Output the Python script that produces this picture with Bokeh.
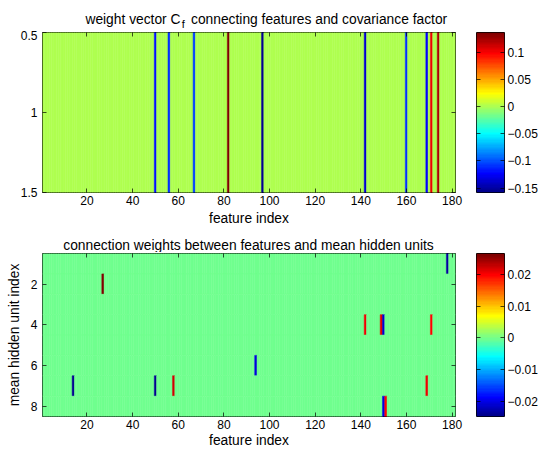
import numpy as np
from bokeh.plotting import figure
from bokeh.layouts import column, row
from bokeh.models import (Range1d, LinearAxis, FixedTicker, LinearColorMapper,
                          ColumnDataSource, CustomJSTickFormatter)
from bokeh.core.properties import value
from bokeh.transform import transform
from bokeh.embed import file_html
from bokeh.resources import INLINE

FONT = "Liberation Sans"
TITLE_SIZE = "13.8px"
LABEL_SIZE = "13.8px"

# ---------------- data ----------------
n_features = 181
n_hidden = 8

# top panel: non-zero entries of weight vector C_f (feature index -> value)
cf_features = [50, 56, 67, 82, 97, 142, 160, 169, 171, 174]
cf_values = [-0.120, -0.108, -0.105, 0.136, -0.158, -0.137, -0.110, -0.125, 0.100, 0.118]

# bottom panel: non-zero connection weights (hidden unit, feature, value)
w_units = [1, 2, 4, 4, 4, 4, 6, 7, 7, 7, 7, 8, 8]
w_features = [178, 27, 142, 149, 150, 171, 94, 14, 50, 58, 169, 150, 151]
w_values = [-0.0235, 0.0266, 0.0205, 0.0215, -0.0210, 0.0195, -0.0200,
            -0.0248, -0.0240, 0.0220, 0.0205, -0.0205, 0.0200]

x_ticks = [20, 40, 60, 80, 100, 120, 140, 160, 180]
y1_ticks = [0.5, 1, 1.5]
y2_ticks = [2, 4, 6, 8]
cb1_ticks = [0.1, 0.05, 0, -0.05, -0.1, -0.15]
cb2_ticks = [0.02, 0.01, 0, -0.01, -0.02]

title1_main = "weight vector C"
title1_sub = "f"
title1_rest = "connecting features and covariance factor"
title2 = "connection weights between features and mean hidden units"


def jet64():
    out = []
    for k in range(1, 65):
        r = min(max(min((k - 24) / 16, (72 - k) / 16), 0), 1)
        g = min(max(min((k - 8) / 16, (56 - k) / 16), 0), 1)
        b = min(max(min((k + 8) / 16, (40 - k) / 16), 0), 1)
        out.append("#%02x%02x%02x" % (round(r * 255), round(g * 255), round(b * 255)))
    return out


JET = jet64()

cf = np.zeros(n_features)
for f, v in zip(cf_features, cf_values):
    cf[f - 1] = v
W = np.zeros((n_hidden, n_features))
for u, f, v in zip(w_units, w_features, w_values):
    W[u - 1, f - 1] = v

fmt = CustomJSTickFormatter(code="return (tick < 0 ? '\u2212' : '') + Math.abs(tick).toString();")


def style_axis(ax, ticks, labels=True, standoff=4):
    ax.ticker = FixedTicker(ticks=ticks)
    ax.axis_line_color = None
    ax.major_tick_in = 4
    ax.major_tick_out = 0
    ax.minor_tick_line_color = None
    ax.major_tick_line_color = "black"
    ax.major_tick_line_alpha = 0.7
    ax.major_label_text_font = FONT
    ax.major_label_text_font_size = "12px"
    ax.major_label_text_color = "black"
    ax.major_label_standoff = standoff
    if not labels:
        ax.major_label_text_font_size = "0px"
        ax.major_label_text_color = None
        ax.major_label_standoff = 0


def axis_label(ax, text, standoff):
    ax.axis_label = text
    ax.axis_label_text_font = FONT
    ax.axis_label_text_font_size = LABEL_SIZE
    ax.axis_label_text_font_style = "normal"
    ax.axis_label_text_color = "black"
    ax.axis_label_standoff = standoff


MAIN_W, CB_W = 468, 80


def main_panel(height, b_top, b_bottom, yr, yticks):
    p = figure(width=MAIN_W, height=height, x_range=Range1d(0.5, n_features + 0.5), y_range=yr,
               output_backend="svg", toolbar_location=None,
               min_border_left=42, min_border_right=13,
               min_border_top=b_top, min_border_bottom=b_bottom)
    p.grid.visible = False
    p.outline_line_color = "black"
    p.outline_line_width = 1
    p.outline_line_alpha = 1
    style_axis(p.below[0], x_ticks, True, 3)
    style_axis(p.left[0], yticks, True, 5)
    ax_top = LinearAxis()
    style_axis(ax_top, x_ticks, False)
    p.add_layout(ax_top, "above")
    ax_r = LinearAxis()
    style_axis(ax_r, yticks, False)
    p.add_layout(ax_r, "right")
    return p


def cbar(height, b_top, b_bottom, mapper, vmin, vmax, ticks):
    c = figure(width=CB_W, height=height, x_range=Range1d(0, 1), y_range=Range1d(vmin, vmax),
               x_axis_location=None, y_axis_location="right",
               output_backend="svg", toolbar_location=None,
               min_border_left=8, min_border_right=44,
               min_border_top=b_top, min_border_bottom=b_bottom)
    c.grid.visible = False
    c.outline_line_color = "black"
    c.outline_line_width = 1
    grad = np.linspace(vmin, vmax, 256).reshape(256, 1)
    c.image(image=[grad], x=0, y=vmin, dw=1, dh=vmax - vmin, color_mapper=mapper)
    style_axis(c.right[0], ticks, True, 3)
    c.right[0].formatter = fmt
    ax_l = LinearAxis()
    style_axis(ax_l, ticks, False)
    c.add_layout(ax_l, "left")
    return c


def strip(height):
    s = figure(width=MAIN_W + CB_W, height=height, x_range=Range1d(0, MAIN_W + CB_W),
               y_range=Range1d(height, 0),
               x_axis_location=None, y_axis_location=None, output_backend="svg",
               toolbar_location=None, min_border=0)
    s.grid.visible = False
    s.outline_line_color = None
    return s


# ---------------- title strip 1 ----------------
S1 = 30
s1 = strip(S1)
s1.text(x=[180], y=[18.5], text=[title1_main], text_align="right", text_baseline="alphabetic",
        text_font=value(FONT), text_font_size=TITLE_SIZE, text_color="black")
s1.text(x=[181.3], y=[23.8], text=[title1_sub], text_align="left", text_baseline="alphabetic",
        text_font=value(FONT), text_font_size="11px", text_color="black")
s1.text(x=[190.5], y=[18.5], text=[title1_rest], text_align="left", text_baseline="alphabetic",
        text_font=value(FONT), text_font_size=TITLE_SIZE, text_color="black")

# ---------------- top panel ----------------
H1, T1, B1 = 200, 2, 38
v1min, v1max = float(cf.min()), float(cf.max())
map1 = LinearColorMapper(palette=JET, low=v1min, high=v1max)
p1 = main_panel(H1, T1, B1, Range1d(1.5, 0.5), y1_ticks)
src1 = ColumnDataSource(dict(x=np.arange(1, n_features + 1), y=np.ones(n_features), v=cf))
p1.rect("x", "y", width=1, height=1, source=src1,
        fill_color=transform("v", map1), line_color=transform("v", map1), line_width=0.5)
axis_label(p1.below[0], "feature index", 3)
c1 = cbar(H1, T1, B1, map1, v1min, v1max, cb1_ticks)

# ---------------- title strip 2 ----------------
S2 = 22
s2 = strip(S2)
s2.text(x=[248], y=[15], text=[title2], text_align="center", text_baseline="alphabetic",
        text_font=value(FONT), text_font_size=TITLE_SIZE, text_color="black")

# ---------------- bottom panel ----------------
H2, T2, B2 = 198, 1, 34
v2min, v2max = float(W.min()), float(W.max())
map2 = LinearColorMapper(palette=JET, low=v2min, high=v2max)
p2 = main_panel(H2, T2, B2, Range1d(n_hidden + 0.5, 0.5), y2_ticks)
xx, yy = np.meshgrid(np.arange(1, n_features + 1), np.arange(1, n_hidden + 1))
src2 = ColumnDataSource(dict(x=xx.ravel(), y=yy.ravel(), v=W.ravel()))
p2.rect("x", "y", width=1, height=1, source=src2,
        fill_color=transform("v", map2), line_color=transform("v", map2), line_width=0.5)
axis_label(p2.below[0], "feature index", 1)
axis_label(p2.left[0], "mean hidden unit index", 6)
c2 = cbar(H2, T2, B2, map2, v2min, v2max, cb2_ticks)

layout = column(s1, row(p1, c1), s2, row(p2, c2))
open("out.html", "w").write(file_html(layout, INLINE))
